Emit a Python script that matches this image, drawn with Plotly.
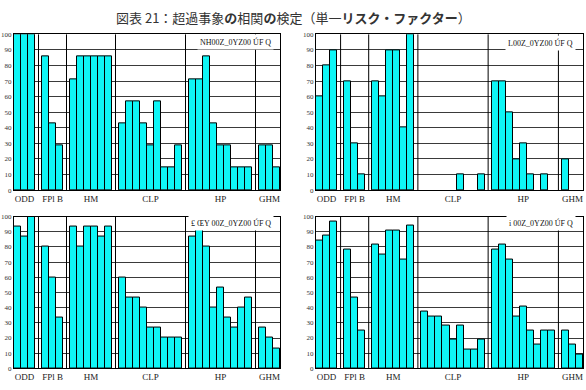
import plotly.graph_objects as go

W, H = 586, 390

# ---- data ----
groups = ["ODD", "FPl B", "HM", "CLP", "HP", "GHM"]
group_sizes = [3, 3, 6, 9, 9, 3]
y_ticks = [0, 10, 20, 30, 40, 50, 60, 70, 80, 90, 100]
y_tick_text = ["0", "10", "20", "30", "40", "50", "60", "70", "80", "90", "100"]

panel_labels = ["NH00Z_0YZ00 ÚF Q", "L00Z_0YZ00 ÚF Q", "£ ŒY 00Z_0YZ00 ÚF Q", "i 00Z_0YZ00 ÚF Q"]

values_tl = [100, 100, 100,
             85.7, 42.9, 28.6,
             71.4, 85.7, 85.7, 85.7, 85.7, 85.7,
             42.9, 57.1, 57.1, 42.9, 28.6, 57.1, 14.3, 14.3, 28.6,
             71.4, 71.4, 85.7, 42.9, 28.6, 28.6, 14.3, 14.3, 14.3,
             28.6, 28.6, 14.3]
values_tr = [60, 80, 90,
             70, 30, 10,
             70, 60, 90, 90, 40, 100,
             0, 0, 0, 0, 0, 10, 0, 0, 10,
             70, 70, 50, 20, 30, 10, 0, 10, 0,
             20, 0, 0]
values_bl = [93.3, 86.7, 100,
             80, 60, 33.3,
             93.3, 80, 93.3, 93.3, 86.7, 93.3,
             60, 46.7, 46.7, 40, 26.7, 26.7, 20, 20, 20,
             86.7, 93.3, 80, 40, 53.3, 33.3, 26.7, 40, 46.7,
             26.7, 20, 13.3]
values_br = [84.4, 87.5, 96.9,
             78.1, 46.9, 25.0,
             81.3, 75.0, 90.6, 90.6, 71.9, 93.8,
             37.5, 34.4, 34.4, 28.1, 18.8, 28.1, 12.5, 12.5, 18.8,
             78.1, 81.3, 71.9, 34.4, 40.6, 25.0, 15.6, 25.0, 25.0,
             25.0, 15.6, 9.4]

# ---- slot positions derived from group structure ----
positions, centers, separators = [], [], []
pos = 0
for i, n in enumerate(group_sizes):
    slots = list(range(pos, pos + n))
    positions += slots
    centers.append((slots[0] + slots[-1]) / 2)
    pos += n
    if i < len(group_sizes) - 1:
        separators.append(pos)
        pos += 1
n_slots = pos

fig = go.Figure()

# panel placement in pixels: (x0, x1, ytop, ybottom)
panels = [
    (14, 280, 31, 190, values_tl, 274, 39),
    (316, 583, 31, 190, values_tr, 576, 40),
    (14, 280, 217, 372, values_bl, 274, 224),
    (316, 583, 217, 372, values_br, 576, 224),
]

axis_common = dict(showline=True, linecolor="#000", linewidth=1, mirror=True, zeroline=False)
shapes, annotations = [], []
for k, (x0, x1, yt, yb, vals, lx, ly) in enumerate(panels):
    i = k + 1
    xa = "x" if i == 1 else f"x{i}"
    ya = "y" if i == 1 else f"y{i}"
    fig.add_trace(go.Bar(
        x=positions, y=vals, xaxis=xa, yaxis=ya, width=1,
        marker=dict(color="#0FF6F6",
                    line=dict(color="#000", width=[1 if v > 0 else 0 for v in vals])),
        showlegend=False, hoverinfo="skip"))
    xkey = "xaxis" if i == 1 else f"xaxis{i}"
    ykey = "yaxis" if i == 1 else f"yaxis{i}"
    fig.update_layout(**{
        xkey: dict(domain=[x0 / W, x1 / W], anchor=ya, range=[-0.5, n_slots - 0.5],
                   tickmode="array", tickvals=centers, ticktext=groups, ticks="",
                   showgrid=False, tickfont=dict(family="Liberation Serif", size=9, color="#222"),
                   **axis_common),
        ykey: dict(domain=[(H - yb) / H, (H - yt) / H], anchor=xa, range=[0, 100],
                   tickmode="array", tickvals=y_ticks, ticktext=y_tick_text, ticks="",
                   showgrid=True, gridcolor="#3a3a3a", gridwidth=1,
                   tickfont=dict(family="Liberation Serif", size=7, color="#333"),
                   **axis_common),
    })
    for s in separators:
        shapes.append(dict(type="line", xref=xa, yref=f"{ya} domain", x0=s, x1=s, y0=0, y1=1,
                           line=dict(color="#000", width=1), layer="above"))
    annotations.append(dict(text=panel_labels[k], xref="paper", yref="paper",
                            x=lx / W, y=(H - ly) / H, xanchor="right", yanchor="middle",
                            showarrow=False, bgcolor="#fff", borderpad=2,
                            font=dict(family="Liberation Serif", size=8, color="#111")))

annotations.append(dict(
    text="図表 21：超過事象<b>の</b>相関<b>の</b>検定（単一<b>リスク・ファクター</b>）",
    xref="paper", yref="paper", x=0.5, y=(H - 14) / H, xanchor="center", yanchor="middle",
    showarrow=False, font=dict(family="Noto Sans CJK JP", size=13, color="#333")))

fig.update_layout(width=W, height=H, margin=dict(l=0, r=0, t=0, b=0),
                  paper_bgcolor="#fff", plot_bgcolor="#fff", bargap=0,
                  shapes=shapes, annotations=annotations)

fig.write_html("out.html")
